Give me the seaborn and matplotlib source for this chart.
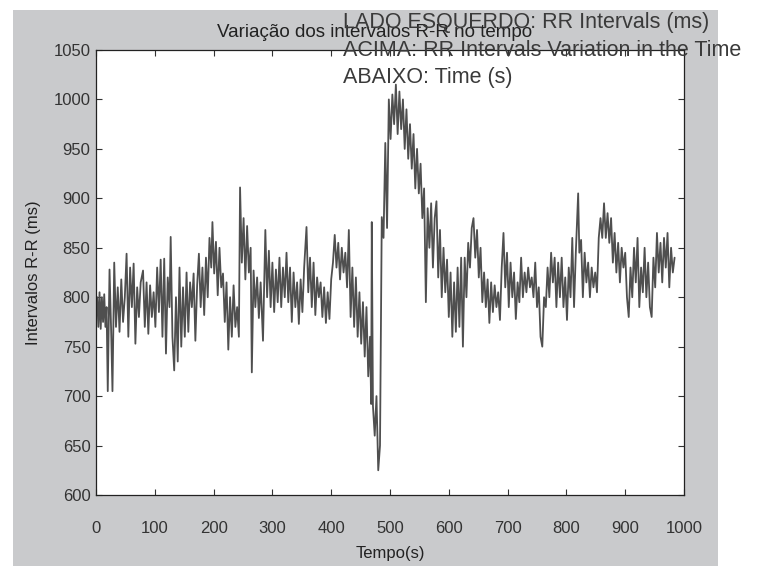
import matplotlib
matplotlib.use("Agg")
import matplotlib.pyplot as plt
from matplotlib.patches import Rectangle
import seaborn as sns
import pandas as pd

# tempo (s) e intervalos R-R (ms)
tempo = [0, 2, 4, 6, 8, 10, 12, 14, 16, 18, 20, 23, 26, 28, 31, 34, 37,
         40, 43, 46, 49, 52, 55, 58, 61, 64, 67, 70, 73, 76, 80, 83, 86, 89, 92, 95, 98,
         101, 104, 107, 110, 113, 116, 119, 122, 125, 127, 130, 133, 136, 139, 142, 145,
         148, 151, 154, 157, 160, 163, 166, 169, 172, 175, 178, 181, 184, 187, 190, 193,
         196, 198, 201, 204, 207, 210, 213, 216, 219, 222, 225, 228, 231, 234, 237, 240,
         243, 245, 248, 251, 254, 257, 260, 263, 265, 268, 271, 274, 277, 280, 284, 288,
         291, 294, 297, 300, 303, 306, 309, 312, 315, 318, 321, 324, 327, 330, 333, 336,
         339, 342, 345, 348, 351, 354, 358, 361, 364, 367, 370, 373, 376, 379, 382, 385,
         388, 391, 394, 397, 400, 403, 406, 409, 412, 415, 418, 421, 424, 427, 430, 433,
         436, 439, 442, 445, 448, 451, 454, 457, 460, 463, 466, 468, 469, 471, 474, 477,
         480, 483, 486, 489, 492, 495, 498, 501, 504, 507, 510, 513, 516, 519, 522, 525,
         528, 531, 534, 537, 540, 543, 546, 549, 552, 555, 558, 561, 564, 567, 570, 573,
         576, 579, 582, 585, 588, 591, 594, 597, 600, 603, 606, 609, 612, 615, 618, 621,
         624, 627, 630, 633, 636, 639, 642, 645, 648, 651, 654, 657, 660, 663, 666, 669,
         672, 675, 678, 681, 684, 687, 690, 693, 696, 699, 702, 705, 708, 711, 714, 717,
         720, 723, 726, 729, 732, 735, 738, 741, 744, 747, 750, 753, 756, 759, 762, 765,
         768, 771, 774, 777, 780, 783, 786, 789, 792, 795, 798, 801, 804, 807, 810, 813,
         816, 820, 822, 825, 828, 831, 834, 837, 840, 843, 846, 849, 852, 855, 858, 861,
         864, 867, 870, 873, 876, 879, 882, 885, 888, 891, 894, 897, 900, 903, 906, 909,
         912, 915, 918, 921, 924, 927, 930, 933, 936, 939, 942, 945, 948, 951, 954, 957,
         960, 963, 966, 969, 972, 975, 978, 981, 984]
rr = [780, 800, 770, 805, 768, 800, 775, 803, 770, 790, 705, 828, 760, 705, 835, 770, 810,
      765, 818, 775, 800, 844, 760, 830, 790, 834, 753, 810, 780, 815, 827, 770, 815, 763, 812, 780, 805,
      770, 830, 785, 838, 760, 839, 743, 820, 790, 861, 760, 726, 800, 735, 830, 750,
      810, 760, 825, 765, 815, 790, 824, 756, 812, 844, 790, 830, 782, 840, 800, 860,
      830, 876, 824, 856, 802, 850, 810, 824, 775, 815, 747, 800, 760, 812, 770, 790,
      760, 911, 835, 880, 818, 872, 825, 850, 724, 827, 790, 820, 779, 815, 756, 868,
      800, 847, 790, 835, 785, 828, 795, 840, 790, 830, 800, 845, 795, 830, 775, 825,
      790, 815, 773, 818, 785, 830, 871, 805, 840, 790, 835, 782, 820, 800, 815, 780,
      810, 774, 805, 778, 818, 835, 863, 830, 855, 818, 850, 825, 845, 810, 868, 780,
      830, 770, 820, 760, 805, 753, 795, 740, 790, 720, 760, 692, 876, 690, 660, 700,
      625, 650, 881, 860, 956, 870, 1000, 960, 1005, 975, 1015, 965, 1008, 970, 1000, 950,
      990, 940, 975, 930, 965, 910, 950, 905, 935, 880, 910, 795, 890, 850, 895, 830,
      880, 897, 820, 868, 800, 850, 805, 838, 780, 825, 760, 815, 765, 830, 770, 840,
      750, 840, 800, 855, 830, 870, 880, 840, 868, 820, 850, 795, 825, 790, 818, 774,
      815, 785, 812, 790, 805, 777, 830, 865, 810, 845, 790, 835, 800, 825, 778, 815,
      795, 840, 800, 825, 805, 830, 810, 820, 800, 835, 790, 810, 760, 750, 800, 790,
      830, 800, 845, 815, 840, 790, 835, 800, 840, 790, 820, 777, 830, 800, 860, 790,
      845, 905, 845, 858, 800, 845, 815, 835, 800, 830, 810, 825, 805, 860, 880, 860,
      895, 860, 885, 855, 880, 835, 865, 825, 855, 815, 850, 830, 845, 800, 780, 830,
      800, 850, 815, 860, 790, 830, 805, 850, 800, 835, 790, 780, 840, 810, 865, 825,
      855, 815, 860, 830, 865, 810, 850, 825, 840]

x_ticks = [0, 100, 200, 300, 400, 500, 600, 700, 800, 900, 1000]
y_ticks = [600, 650, 700, 750, 800, 850, 900, 950, 1000, 1050]

titulo = "Variação dos intervalos R-R no tempo"
rotulo_x = "Tempo(s)"
rotulo_y = "Intervalos R-R (ms)"
notas = ["LADO ESQUERDO: RR Intervals (ms)",
         "ACIMA: RR Intervals Variation in the Time",
         "ABAIXO: Time (s)"]

df = pd.DataFrame({"tempo": tempo, "rr": rr})

sns.set_style("ticks")
plt.rcParams["font.family"] = ["Liberation Sans", "DejaVu Sans"]

W, H = 760, 566
fig = plt.figure(figsize=(W / 100, H / 100), dpi=100, facecolor="white")

# fundo cinza estilo matlab (eixo de fundo sem marcas)
bg = fig.add_axes([0, 0, 1, 1], zorder=0)
bg.set_axis_off()
bg.add_patch(Rectangle((13 / W, 0), (718 - 13) / W, (566 - 10) / H,
                       transform=bg.transAxes, facecolor="#c9cacc",
                       edgecolor="none"))

ax = fig.add_axes([96 / W, (H - 495) / H, 588 / W, 445 / H], zorder=2)
ax.set_facecolor("white")

sns.lineplot(data=df, x="tempo", y="rr", ax=ax, color="#4f4f4f",
             linewidth=1.3, sort=False, estimator=None)

ax.set_xlim(0, 1000)
ax.set_ylim(600, 1050)
ax.set_xticks(x_ticks)
ax.set_yticks(y_ticks)
ax.tick_params(direction="in", length=4, width=0.8, top=True, right=True,
               labelsize=12, colors="#333333")
ax.tick_params(axis="x", pad=19)
ax.tick_params(axis="y", pad=4)
for s in ax.spines.values():
    s.set_visible(True)
    s.set_linewidth(0.9)
    s.set_color("#222222")

ax.set_xlabel(rotulo_x, fontsize=12, color="#222222", labelpad=7)
ax.set_ylabel(rotulo_y, fontsize=12, color="#222222", labelpad=9)

fig.text(375 / W, 1 - 37 / H, titulo, ha="center", va="baseline",
         fontsize=13.5, color="#222222", zorder=5)

for txt, yb in zip(notas, [28, 56, 83]):
    fig.text(343 / W, 1 - yb / H, txt, ha="left", va="baseline",
             fontsize=15.5, color="#3a3a3a", zorder=6)

fig.savefig("out.png", dpi=100, facecolor=fig.get_facecolor())
